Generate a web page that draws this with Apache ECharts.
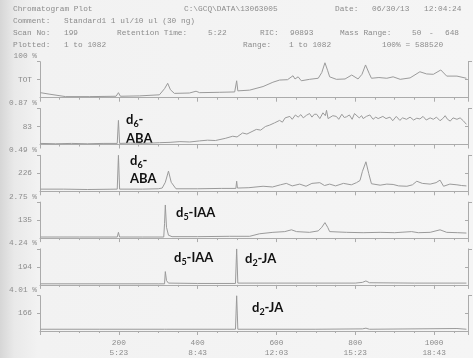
<!DOCTYPE html>
<html>
<head>
<meta charset="utf-8">
<script src="https://cdn.jsdelivr.net/npm/echarts@6/dist/echarts.min.js"></script>
<style>
html, body { margin: 0; padding: 0; }
#main {
  width: 473px; height: 358px;
  background: linear-gradient(to right, #d6d6d6 0%, #e9e9e9 3%, #f2f2f2 8%, #f5f5f5 100%);
}
</style>
</head>
<body>
<div id="main"></div>
<script>
// scan number vs relative intensity
var tot = [[1,14],[23,10],[65,3],[125,3],[193,4],[199,14],[204,4],[252,5],[303,8],[316,25],[324,40],[331,22],[341,12],[379,13],[396,18],[405,14],[455,15],[494,16],[497,16],[499,47],[502,19],[532,21],[566,31],[591,43],[608,49],[628,50],[642,61],[647,52],[651,50],[655,58],[663,47],[684,51],[706,54],[715,70],[723,97],[730,75],[735,58],[752,51],[774,52],[791,63],[807,52],[817,65],[826,91],[835,68],[841,54],[860,56],[880,54],[896,58],[914,51],[939,55],[964,72],[981,66],[998,65],[1017,77],[1032,60],[1058,60],[1082,54]]
var ion83 = [[1,3],[40,2],[80,3],[120,2],[160,3],[196,3],[199,67],[202,3],[230,4],[260,3],[303,5],[330,6],[355,8],[380,7],[405,10],[425,12],[445,11],[470,17],[489,23],[500,21],[514,32],[525,29],[538,36],[549,42],[560,40],[572,50],[583,54],[595,60],[608,67],[615,62],[622,74],[634,78],[640,70],[648,82],[655,76],[662,83],[668,74],[676,81],[684,86],[690,76],[696,84],[702,84],[710,72],[718,88],[724,80],[727,95],[731,72],[735,70],[743,80],[752,78],[758,70],[766,84],[772,75],[778,77],[785,82],[792,70],[798,86],[803,84],[810,74],[816,80],[820,72],[828,78],[837,82],[845,70],[852,76],[858,72],[863,69],[870,78],[878,72],[888,76],[895,66],[904,78],[913,67],[920,74],[930,70],[939,76],[948,68],[956,73],[964,71],[972,78],[980,68],[990,74],[998,70],[1006,76],[1015,66],[1022,72],[1028,80],[1034,70],[1041,65],[1048,74],[1058,70],[1066,74],[1074,66],[1082,56]]
var ion226 = [[1,6],[60,6],[120,5],[196,6],[199,100],[202,6],[260,6],[300,7],[310,9],[318,25],[326,56],[333,25],[345,7],[400,7],[460,8],[497,8],[499,28],[501,9],[530,10],[566,14],[590,12],[610,18],[625,22],[640,15],[659,20],[675,14],[690,22],[710,24],[722,16],[735,20],[750,15],[770,22],[790,18],[803,24],[812,30],[818,55],[827,82],[834,50],[841,21],[863,17],[880,20],[896,19],[910,15],[931,14],[945,18],[956,28],[970,22],[990,20],[1005,24],[1015,31],[1024,14],[1040,20],[1058,18],[1070,16],[1082,15]]
var ion135 = [[1,3],[100,3],[196,3],[199,16],[202,3],[260,3],[314,3],[316,40],[318,92],[321,30],[326,8],[335,4],[400,4],[481,5],[532,5],[557,12],[591,16],[621,18],[638,23],[651,18],[684,16],[706,20],[715,30],[723,43],[730,30],[735,18],[778,16],[820,15],[863,16],[900,15],[943,18],[960,15],[990,16],[1015,23],[1032,16],[1060,15],[1082,14]]
var ion194 = [[1,3],[150,3],[300,3],[316,3],[318,37],[321,12],[326,5],[400,4],[496,4],[499,100],[502,5],[600,5],[700,5],[800,5],[818,7],[827,11],[836,6],[950,5],[1082,5]]
var ion166 = [[1,5],[150,5],[316,5],[318,8],[322,5],[496,5],[499,100],[502,5],[700,5],[818,6],[827,8],[836,5],[1058,7],[1082,5]]

var traces = [tot, ion83, ion226, ion135, ion194, ion166]
var panelNames = ['TOT', '83', '226', '135', '194', '166']
var panelPct = ['100 %', '0.87 %', '0.49 %', '2.75 %', '4.24 %', '4.01 %']
var tickScans = [200, 400, 600, 800, 1000]
var tickTimes = ['5:23', '8:43', '12:03', '15:23', '18:43']

// header of the printout
var headerText = [
  'Chromatogram Plot', 'C:\\GCQ\\DATA\\13063005', 'Date:', '06/30/13', '12:04:24',
  'Comment:', 'Standard1 1 ul/10 ul (30 ng)',
  'Scan No:', '199', 'Retention Time:', '5:22', 'RIC:', '90893', 'Mass Range:', '50', '-', '648',
  'Plotted:', '1 to 1082', 'Range:', '1 to 1082', '100% =', '588520'
]
var headerPos = [
  [13,9],[184,9],[335,9],[372,9],[424,9],
  [13,20.5],[64,20.5],
  [13,32.5],[64,32.5],[117,32.5],[208,32.5],[260,32.5],[290,32.5],[340,32.5],[412,32.5],[429,32.5],[445,32.5],
  [13,44.5],[64,44.5],[243,44.5],[289,44.5],[382,44.5],[415,44.5]
]

// compound labels
var peakLabels = [
  {lines: [['d', '6', '-'], ['ABA']], x: 126, y: [120, 139]},
  {lines: [['d', '6', '-'], ['ABA']], x: 130, y: [161, 179]},
  {lines: [['d', '5', '-IAA']], x: 176, y: [213]},
  {lines: [['d', '5', '-IAA']], x: 174, y: [258]},
  {lines: [['d', '2', '-JA']], x: 245, y: [259]},
  {lines: [['d', '2', '-JA']], x: 252, y: [308]}
]

var mono = 'Liberation Mono'
var txtColor = '#8c8c8c'
var axisColor = '#ababab'
var lineColor = '#9a9a9a'

var grids = [], xAxes = [], yAxes = [], series = []
traces.forEach(function (data, k) {
  var top = 61.7 + 46.8 * k
  var last = k === traces.length - 1
  grids.push({left: 40, right: 5, top: top, height: 36})
  xAxes.push({
    type: 'value', gridIndex: k, min: 0, max: 1086, interval: 200,
    axisLine: {lineStyle: {color: axisColor, width: 1}},
    axisTick: {show: true, length: 4, lineStyle: {color: axisColor}},
    minorTick: {show: true, splitNumber: 4, length: 2, lineStyle: {color: axisColor}},
    splitLine: {show: false}, minorSplitLine: {show: false},
    axisLabel: {
      show: last, margin: 7, color: txtColor, fontFamily: mono, fontSize: 7.8, lineHeight: 10,
      showMinLabel: false, showMaxLabel: false,
      formatter: function (v) {
        var i = tickScans.indexOf(v)
        return i < 0 ? '' : v + '\n' + tickTimes[i]
      }
    }
  })
  yAxes.push({
    type: 'value', gridIndex: k, position: 'left', min: 0, max: 100,
    axisLine: {show: true, lineStyle: {color: axisColor}},
    axisTick: {show: true, length: 3, customValues: [50, 100], lineStyle: {color: axisColor}},
    axisLabel: {customValues: [50], margin: 8, color: txtColor, fontFamily: mono, fontSize: 7.8,
      formatter: function () { return panelNames[k] }},
    splitLine: {show: false},
    name: panelPct[k], nameLocation: 'end', nameGap: 1.5,
    nameTextStyle: {align: 'right', padding: [0, 3, 0, 0], color: txtColor, fontFamily: mono, fontSize: 7.8}
  })
  yAxes.push({
    type: 'value', gridIndex: k, position: 'right', min: 0, max: 100,
    axisLine: {show: true, lineStyle: {color: axisColor}},
    axisTick: {show: true, length: 4, customValues: [100], lineStyle: {color: axisColor}},
    axisLabel: {show: false}, splitLine: {show: false}
  })
  yAxes.push({
    type: 'value', gridIndex: k, position: 'right', min: 0, max: 100,
    axisLine: {show: false},
    axisTick: {show: true, inside: true, length: 3, customValues: [50], lineStyle: {color: axisColor}},
    axisLabel: {show: false}, splitLine: {show: false}
  })
  series.push({
    type: 'line', xAxisIndex: k, yAxisIndex: 3 * k, data: data,
    symbol: 'none', lineStyle: {color: lineColor, width: 1}, silent: true
  })
})

var graphics = []
headerText.forEach(function (t, i) {
  graphics.push({type: 'text', x: headerPos[i][0], y: headerPos[i][1], silent: true,
    style: {text: t, fill: txtColor, font: '7.8px "' + mono + '"', verticalAlign: 'middle'}})
})
peakLabels.forEach(function (p) {
  p.lines.forEach(function (ln, j) {
    var txt = ln.length === 3 ? '{a|' + ln[0] + '}{s|' + ln[1] + '}{a|' + ln[2] + '}' : '{a|' + ln[0] + '}'
    graphics.push({type: 'text', x: p.x, y: p.y[j], silent: true,
      style: {text: txt, verticalAlign: 'middle',
        rich: {
          a: {fontFamily: 'Lato', fontWeight: 'bold', fontSize: 13, fill: '#111', lineHeight: 16},
          s: {fontFamily: 'Lato', fontWeight: 'bold', fontSize: 9, fill: '#111', lineHeight: 16, padding: [8, 0, 0, 0]}
        }}})
  })
})

var chart = echarts.init(document.getElementById('main'))
chart.setOption({
  animation: false,
  grid: grids,
  xAxis: xAxes,
  yAxis: yAxes,
  series: series,
  graphic: graphics
})
</script>
</body>
</html>
